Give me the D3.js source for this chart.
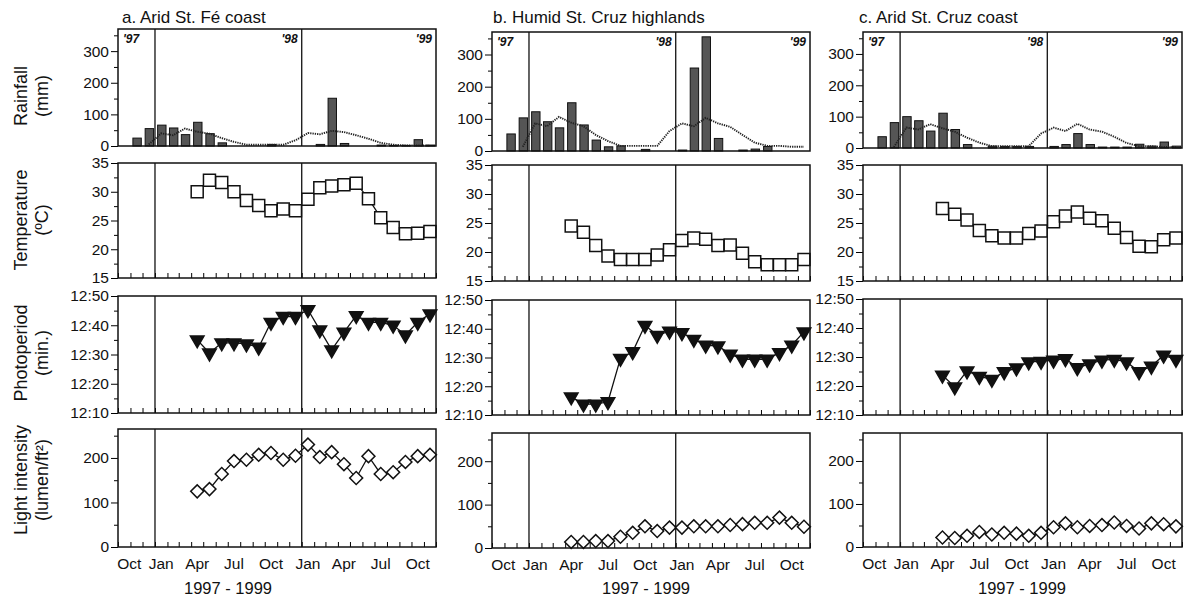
<!DOCTYPE html>
<html>
<head>
<meta charset="utf-8">
<script src="https://cdn.jsdelivr.net/npm/d3@7"></script>
<style>
body { margin: 0; background: #fff; }
svg text { font-family: 'Liberation Sans', Arial, sans-serif; fill: #111; }
</style>
</head>
<body>
<div id="chart"></div>
<script>
// months shown on every panel (Oct 97 - Nov 99)
var months = ['1997-10', '1997-11', '1997-12',
    '1998-01', '1998-02', '1998-03', '1998-04', '1998-05', '1998-06',
    '1998-07', '1998-08', '1998-09', '1998-10', '1998-11', '1998-12',
    '1999-01', '1999-02', '1999-03', '1999-04', '1999-05', '1999-06',
    '1999-07', '1999-08', '1999-09', '1999-10', '1999-11'];
var measuredMonths = months.slice(6); // Apr 98 on

var monthLabels = ['Oct', 'Jan', 'Apr', 'Jul', 'Oct', 'Jan', 'Apr', 'Jul', 'Oct'];
var monthLabelAt = ['1997-10', '1998-01', '1998-04', '1998-07', '1998-10', '1999-01', '1999-04', '1999-07', '1999-10'];
var yearLines = ['1998-01', '1999-01'];

var siteTitles = ['a. Arid St. Fé coast', 'b. Humid St. Cruz highlands', 'c. Arid St. Cruz coast'];

// rainfall bars (mm), Oct 97 - Nov 99
var rainA = [0, 25, 55, 66, 57, 36, 75, 39, 10, 0, 0, 0, 5, 0, 0, 0, 5, 151, 8, 0, 0, 3, 2, 2, 20, 3];
var rainB = [0, 53, 103, 122, 91, 72, 150, 81, 34, 13, 16, 0, 5, 0, 0, 3, 258, 355, 39, 0, 3, 6, 14, 0, 0, 0];
var rainC = [0, 36, 81, 100, 87, 54, 111, 59, 11, 0, 6, 5, 5, 5, 0, 5, 11, 46, 11, 3, 3, 3, 12, 6, 19, 6];

// dotted rainfall line
var rainLineA = [null, null, 5, 40, 34, 55, 45, 39, 25, 13, 4, 4, 4, 4, 18, 41, 37, 48, 44, 34, 23, 10, 4, 2, 2, 1];
var rainLineB = [null, null, 13, 86, 77, 106, 88, 77, 50, 31, 16, 16, 16, 16, 62, 86, 77, 103, 86, 75, 50, 26, 16, 16, 13, 13];
var rainLineC = [null, null, 3, 65, 59, 76, 63, 52, 33, 17, 6, 6, 6, 6, 46, 65, 54, 77, 59, 52, 36, 16, 6, 6, 3, 3];

// temperature (C), Apr 98 - Nov 99
var tempA = [30.0, 32.0, 31.6, 30.0, 28.5, 27.6, 26.7, 27.0, 26.7, 28.7, 30.7, 31.0, 31.2, 31.5, 28.8, 25.5, 23.8, 22.7, 22.8, 23.1];
var tempB = [24.5, 23.4, 21.1, 19.3, 18.7, 18.7, 18.7, 19.5, 20.4, 22.0, 22.4, 22.2, 21.1, 21.2, 19.8, 18.3, 17.8, 17.8, 17.8, 18.7];
var tempC = [27.5, 26.5, 25.5, 23.7, 22.8, 22.4, 22.4, 23.2, 23.6, 25.2, 26.2, 26.9, 25.8, 25.4, 24.1, 22.5, 21.0, 20.9, 22.1, 22.4];

// photoperiod, minutes past 12 h
var photoA = [35, 30.5, 34, 34, 33.6, 32.5, 41, 43, 43, 45.3, 38.4, 31.6, 37.6, 43.3, 41, 41, 40, 36.7, 41, 43.9];
var photoB = [16.3, 13.8, 13.8, 14.6, 29.7, 32, 41.2, 37.7, 39.2, 38.6, 36.3, 34.3, 34, 31.2, 29.4, 29.4, 29.4, 31.7, 34.3, 38.9];
var photoC = [23.7, 19.7, 25.2, 23.3, 22.3, 24.9, 26.2, 28.3, 28.5, 28.9, 29.4, 26.3, 27.6, 28.9, 29.2, 28.3, 24.9, 26.8, 30.6, 29.2];

// light intensity (lumen/ft2)
var lightA = [125, 130, 164, 193, 196, 207, 211, 196, 205, 230, 202, 213, 186, 155, 204, 164, 168, 191, 204, 207];
var lightB = [14, 14, 16, 16, 26, 35, 50, 39, 47, 47, 50, 50, 50, 53, 55, 58, 58, 70, 58, 49];
var lightC = [22, 21, 26, 35, 29, 33, 31, 26, 33, 46, 55, 46, 49, 51, 57, 49, 43, 55, 53, 48];

var width = 1184, height = 597;

// layout: panel columns and rows (the scan is slightly skewed, so each column has its own rows)
var colX = [[118, 436], [492, 810], [863, 1182]];
var rowY = [
    [[29, 146], [163, 278], [296, 413], [429, 547]],
    [[32, 151], [165, 281], [300, 415], [433, 548]],
    [[32, 148], [165, 281], [299, 415], [433, 547]]
];
var titleX = [122, 493, 859];
var xTitleX = [228, 646, 1022];

var rows = [
    { domain: [0, 370], major: [0, 100, 200, 300], minor: [50, 150, 250, 350], fmt: String,
      label: ['Rainfall', '(mm)'], labelY: 96 },
    { domain: [15, 35], major: [15, 20, 25, 30, 35], minor: [17.5, 22.5, 27.5, 32.5], fmt: String,
      label: ['Temperature', '(ºC)'], labelY: 220 },
    { domain: [10, 50], major: [10, 20, 30, 40, 50], minor: [15, 25, 35, 45], fmt: function(d) { return '12:' + d; },
      label: ['Photoperiod', '(min.)'], labelY: 353 },
    { domain: [0, 265], major: [0, 100, 200], minor: [50, 150, 250], fmt: String,
      label: ['Light intensity', '(lumen/ft²)'], labelY: 480 }
];

var sites = [
    { rain: rainA, rainLine: rainLineA, temp: tempA, photo: photoA, light: lightA },
    { rain: rainB, rainLine: rainLineB, temp: tempB, photo: photoB, light: lightB },
    { rain: rainC, rainLine: rainLineC, temp: tempC, photo: photoC, light: lightC }
];

var parseMonth = d3.timeParse('%Y-%m');

var svg = d3.select('#chart')
    .append('svg')
    .attr('width', width)
    .attr('height', height)
    .attr('viewBox', `0 0 ${width} ${height}`);

// left axis titles
rows.forEach(function(r) {
    r.label.forEach(function(t, i) {
        svg.append('text')
            .attr('transform', `translate(${i === 0 ? 21 : 42}, ${r.labelY}) rotate(-90)`)
            .attr('text-anchor', 'middle')
            .attr('dominant-baseline', 'central')
            .style('font-size', '18px')
            .text(t);
    });
});

sites.forEach(function(site, c) {
    var x = d3.scaleTime()
        .domain([parseMonth('1997-10'), parseMonth('1999-12')])
        .range(colX[c]);
    function mid(m) {
        var d = parseMonth(m);
        return (x(d) + x(d3.timeMonth.offset(d, 1))) / 2;
    }

    svg.append('text')
        .attr('x', titleX[c])
        .attr('y', 23)
        .style('font-size', '17px')
        .text(siteTitles[c]);

    rows.forEach(function(r, ri) {
        var y0 = rowY[c][ri][0], y1 = rowY[c][ri][1];
        var y = d3.scaleLinear().domain(r.domain).range([y1, y0]);
        var g = svg.append('g');

        // minor + major y ticks
        g.append('g')
            .attr('transform', `translate(${colX[c][0]}, 0)`)
            .call(d3.axisLeft(y).tickValues(r.minor).tickSize(4).tickFormat(''))
            .call(function(a) { a.select('.domain').remove(); });
        g.append('g')
            .attr('transform', `translate(${colX[c][0]}, 0)`)
            .call(d3.axisLeft(y).tickValues(r.major).tickSize(7).tickPadding(2).tickFormat(r.fmt))
            .call(function(a) {
                a.select('.domain').remove();
                a.selectAll('text').style('font-size', '15.5px').attr('fill', '#111')
                    .attr('font-family', null);
            });

        // month ticks pointing inward
        if (ri > 0) {
            g.append('g')
                .attr('transform', `translate(0, ${y1})`)
                .call(d3.axisBottom(x).ticks(d3.timeMonth.every(1)).tickSize(-5).tickFormat(''))
                .call(function(a) { a.select('.domain').remove(); });
        }

        // year separators
        yearLines.forEach(function(m) {
            g.append('line')
                .attr('x1', x(parseMonth(m))).attr('x2', x(parseMonth(m)))
                .attr('y1', y0).attr('y2', y1)
                .attr('stroke', '#111').attr('stroke-width', 1.3);
        });

        if (ri === 0) {
            g.selectAll('rect.bar')
                .data(site.rain)
                .enter()
                .append('rect')
                .attr('class', 'bar')
                .attr('x', function(d, i) { return mid(months[i]) - 3.6; })
                .attr('width', 8.4)
                .attr('y', function(d) { return y(d); })
                .attr('height', function(d) { return y1 - y(d); })
                .attr('fill', '#555')
                .attr('stroke', '#111')
                .attr('stroke-width', 1)
                .attr('display', function(d) { return d > 0 ? null : 'none'; });

            g.append('path')
                .datum(site.rainLine.map(function(v, i) { return [mid(months[i]), v]; }))
                .attr('fill', 'none')
                .attr('stroke', '#222')
                .attr('stroke-width', 1.9)
                .attr('stroke-dasharray', '1.3,1')
                .attr('d', d3.line()
                    .defined(function(d) { return d[1] !== null; })
                    .x(function(d) { return d[0]; })
                    .y(function(d) { return y(d[1]); }));

            var yl = g.append('g')
                .style('font-size', '12px')
                .style('font-weight', 'bold')
                .style('font-style', 'italic');
            yl.append('text').attr('x', colX[c][0] + 5).attr('y', y0 + 14).text("'97");
            yl.append('text').attr('x', x(parseMonth('1999-01')) - 4).attr('y', y0 + 14)
                .attr('text-anchor', 'end').text("'98");
            yl.append('text').attr('x', colX[c][1] - 4).attr('y', y0 + 14)
                .attr('text-anchor', 'end').text("'99");
        } else {
            var key = ['temp', 'photo', 'light'][ri - 1];
            var pts = site[key].map(function(v, i) { return [mid(measuredMonths[i]), y(v)]; });

            g.append('path')
                .datum(pts)
                .attr('fill', 'none')
                .attr('stroke', '#111')
                .attr('stroke-width', 1.3)
                .attr('d', d3.line());

            var sym;
            if (ri === 1) {
                sym = d3.symbol(d3.symbolSquare, 144);
            } else if (ri === 2) {
                sym = d3.symbol(d3.symbolTriangle, 80);
            } else {
                sym = d3.symbol(d3.symbolSquare, 84);
            }
            var rot = ri === 2 ? 180 : (ri === 3 ? 45 : 0);

            g.selectAll('path.mark')
                .data(pts)
                .enter()
                .append('path')
                .attr('class', 'mark')
                .attr('d', sym)
                .attr('transform', function(d) { return `translate(${d[0]}, ${d[1]}) rotate(${rot})`; })
                .attr('fill', ri === 2 ? '#111' : '#fff')
                .attr('stroke', '#111')
                .attr('stroke-width', 1.5);
        }

        // panel frame
        g.append('rect')
            .attr('x', colX[c][0]).attr('y', y0)
            .attr('width', colX[c][1] - colX[c][0])
            .attr('height', y1 - y0)
            .attr('fill', 'none')
            .attr('stroke', '#111')
            .attr('stroke-width', 1.5);

        // month labels and the period under the bottom row
        if (ri === 3) {
            monthLabelAt.forEach(function(m, i) {
                g.append('text')
                    .attr('x', mid(m) + (i === 0 ? 5 : 0))
                    .attr('y', y1 + 22)
                    .attr('text-anchor', 'middle')
                    .style('font-size', '15.5px')
                    .text(monthLabels[i]);
            });
            g.append('text')
                .attr('x', xTitleX[c])
                .attr('y', 594)
                .attr('text-anchor', 'middle')
                .style('font-size', '16.5px')
                .text('1997 - 1999');
        }
    });
});
</script>
</body>
</html>
